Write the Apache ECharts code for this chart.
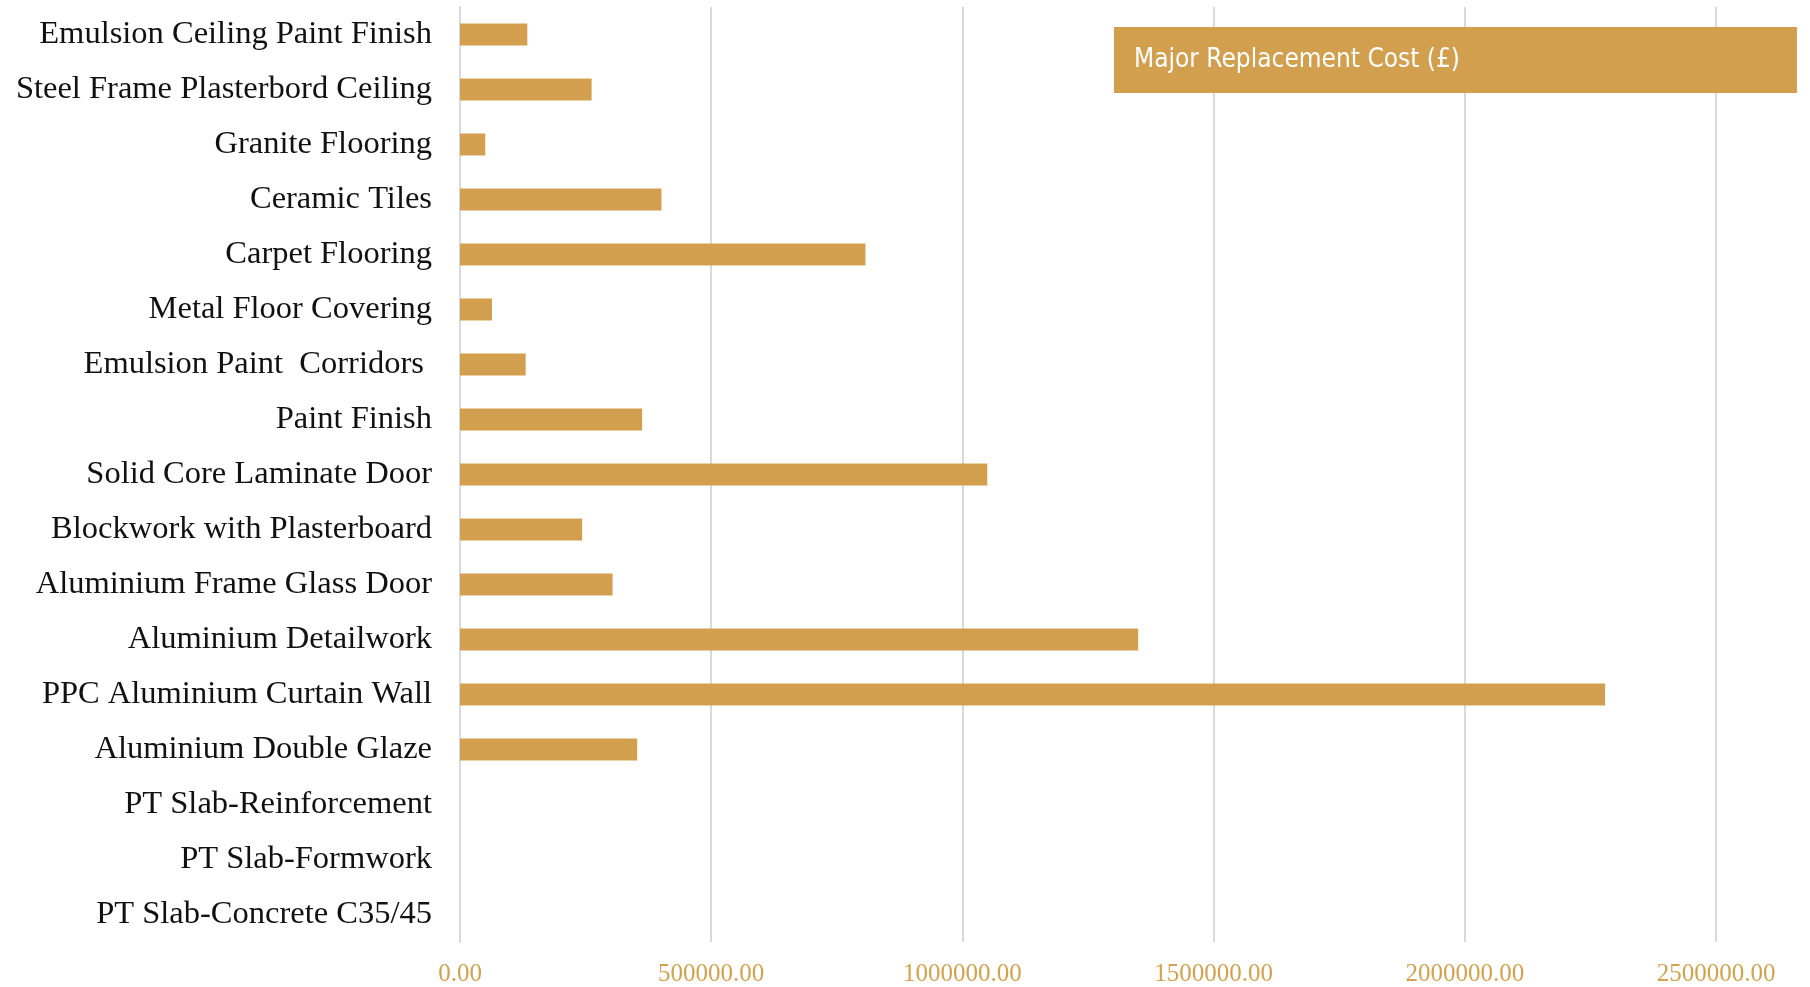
<!DOCTYPE html>
<html>
<head>
<meta charset="utf-8">
<script src="https://cdn.jsdelivr.net/npm/echarts@6/dist/echarts.min.js"></script>
<style>
  html, body { margin: 0; padding: 0; background: #ffffff; }
  #chart { width: 1810px; height: 987px; }
</style>
</head>
<body>
<div id="chart"></div>
<script>
// Building elements, listed top to bottom
const categories = [
  'Emulsion Ceiling Paint Finish',
  'Steel Frame Plasterbord Ceiling',
  'Granite Flooring',
  'Ceramic Tiles',
  'Carpet Flooring',
  'Metal Floor Covering',
  'Emulsion Paint  Corridors ',
  'Paint Finish',
  'Solid Core Laminate Door',
  'Blockwork with Plasterboard',
  'Aluminium Frame Glass Door',
  'Aluminium Detailwork',
  'PPC Aluminium Curtain Wall',
  'Aluminium Double Glaze',
  'PT Slab-Reinforcement',
  'PT Slab-Formwork',
  'PT Slab-Concrete C35/45'
];

// Major replacement cost in pounds, same order as categories
const replacementCost = [
  134000, 262000, 50300, 401000, 807000, 63600, 130700, 362600,
  1049500, 243200, 303700, 1349900, 2279300, 352600, 0, 0, 0
];

const seriesName = 'Major Replacement Cost (£)';
const axisMax = 2500000;
const axisStep = 500000;

const gold = '#D19F4D';

const chart = echarts.init(document.getElementById('chart'));
chart.setOption({
  backgroundColor: '#ffffff',
  animation: false,
  grid: { left: 460, right: 94, top: 7, bottom: 44, containLabel: false },
  legend: {
    data: [seriesName],
    left: 1114,
    top: 27,
    icon: 'none',
    itemWidth: 0,
    itemGap: 0,
    backgroundColor: gold,
    borderRadius: 0,
    padding: [20, 337, 20, 15],
    textStyle: {
      color: '#ffffff',
      fontFamily: "'Liberation Sans Narrow', 'DejaVu Sans Condensed', 'Liberation Sans', sans-serif",
      fontSize: 26
    }
  },
  xAxis: {
    type: 'value',
    min: 0,
    max: axisMax,
    interval: axisStep,
    axisLine: { show: false },
    axisTick: { show: false },
    splitLine: { show: true, lineStyle: { color: '#D9D9D9', width: 2 } },
    axisLabel: {
      color: '#D4A24E',
      fontFamily: "'Liberation Serif', 'DejaVu Serif', serif",
      fontSize: 25,
      margin: 20,
      formatter: v => v.toFixed(2)
    }
  },
  yAxis: {
    type: 'category',
    inverse: true,
    data: categories,
    axisLine: { show: true, lineStyle: { color: '#D9D9D9', width: 2 } },
    axisTick: { show: false },
    axisLabel: {
      color: '#111111',
      fontFamily: "'Liberation Serif', 'DejaVu Serif', serif",
      fontSize: 32.5,
      margin: 28
    }
  },
  series: [{
    name: seriesName,
    type: 'bar',
    data: replacementCost,
    barWidth: '40%',
    itemStyle: { color: gold }
  }]
});
</script>
</body>
</html>
